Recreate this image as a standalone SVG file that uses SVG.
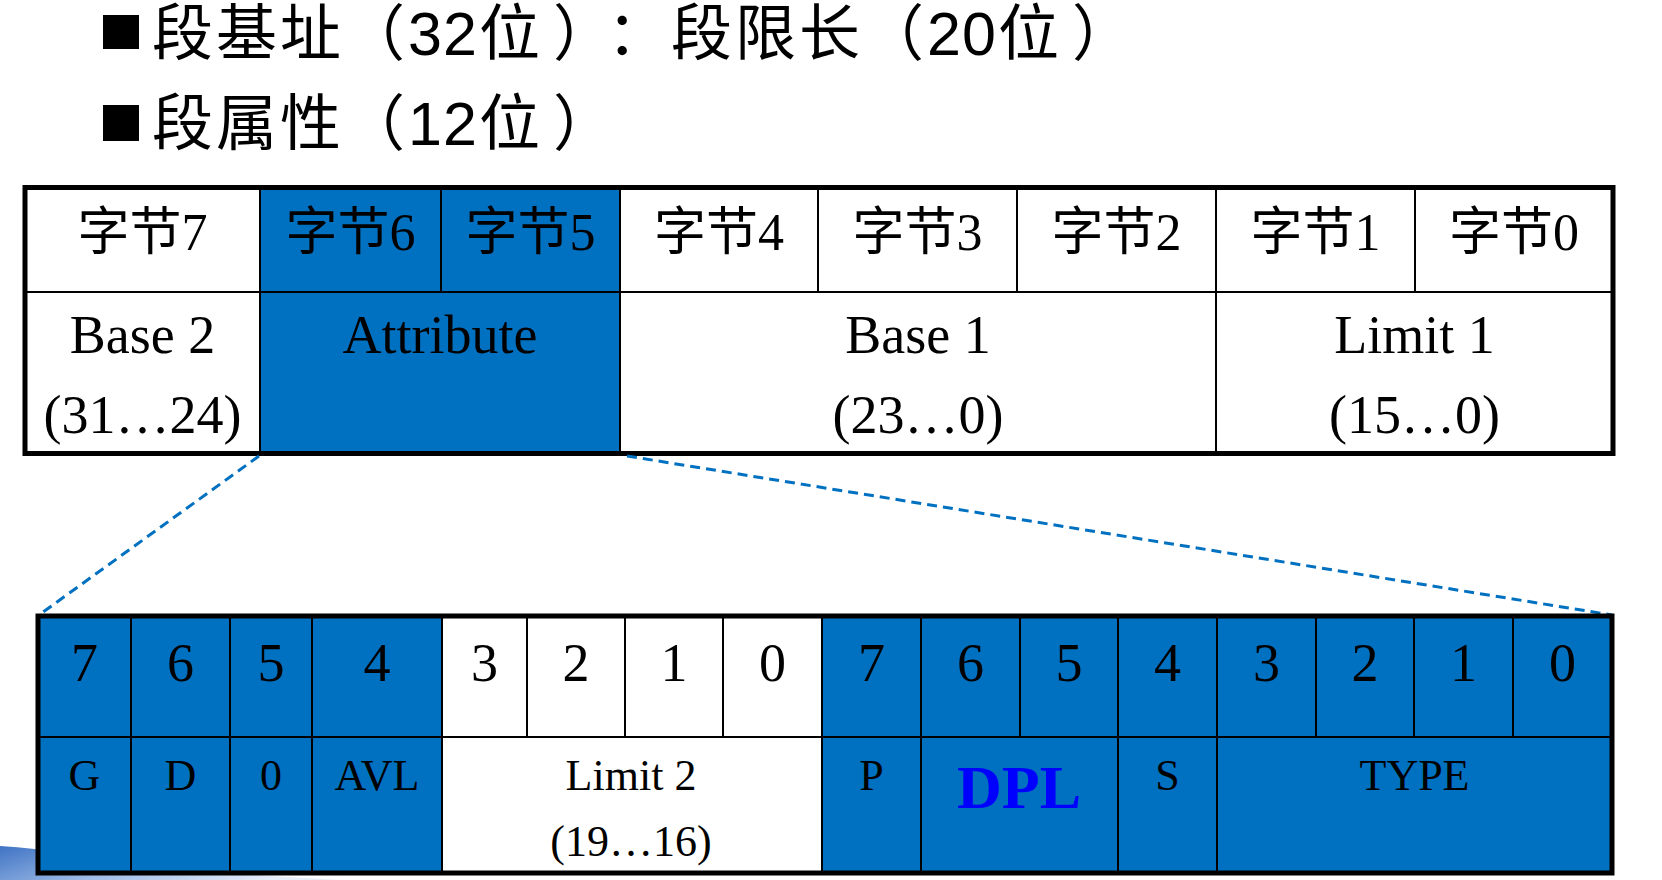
<svg xmlns="http://www.w3.org/2000/svg" width="1662" height="880" viewBox="0 0 1662 880">
<style>
.w{fill:#ffffff}
.b{fill:#0070C0}
.in{stroke:#000;stroke-width:2;fill:none}
.out{stroke:#000;stroke-width:5;fill:none}
.t{font-family:"Liberation Serif","Noto Sans CJK SC",serif;text-anchor:middle;fill:#000}
.hd{font-size:52px}
.lb{font-size:54px}
.bit{font-size:54px}
.fl{font-size:44px}
.dpl{font-size:62px;font-weight:bold;fill:#0000FF}
.title{font-family:"Liberation Sans","Noto Sans CJK SC",sans-serif;font-size:61px;fill:#000;text-spacing-trim:space-all}
.dash{stroke:#0070C0;stroke-width:3;stroke-dasharray:10 6;fill:none}
</style>
<defs>
<linearGradient id="sw" x1="0" y1="0" x2="1" y2="0.3">
<stop offset="0" stop-color="#3f73c4"/>
<stop offset="0.5" stop-color="#9dbbe6"/>
<stop offset="1" stop-color="#e6eefa"/>
</linearGradient>
</defs>
<rect width="1662" height="880" fill="#ffffff"/>
<path d="M0,846 Q70,850 130,868 L340,880 L0,880 Z" fill="url(#sw)"/>

<g id="title">
<rect x="103" y="15" width="36" height="34" fill="#000"/>
<text class="title" x="152 216 280 344 408 443 479 553 607 671 735 799 863 927 962 998 1072" y="55">段基址（32位）：段限长（20位）</text>
<rect x="103" y="105" width="36" height="36" fill="#000"/>
<text class="title" x="152 216 280 344 408 443 479 553" y="145">段属性（12位）</text>
</g>

<g id="descriptor">
<g id="byte7"><rect class="w" x="25" y="187.5" width="235" height="104.5"/><text class="t hd" x="142.5" y="250">字节7</text></g>
<g id="byte6"><rect class="b" x="260" y="187.5" width="181" height="104.5"/><text class="t hd" x="350.5" y="250">字节6</text></g>
<g id="byte5"><rect class="b" x="441" y="187.5" width="179" height="104.5"/><text class="t hd" x="530.5" y="250">字节5</text></g>
<g id="byte4"><rect class="w" x="620" y="187.5" width="198" height="104.5"/><text class="t hd" x="719" y="250">字节4</text></g>
<g id="byte3"><rect class="w" x="818" y="187.5" width="199" height="104.5"/><text class="t hd" x="917.5" y="250">字节3</text></g>
<g id="byte2"><rect class="w" x="1017" y="187.5" width="199" height="104.5"/><text class="t hd" x="1116.5" y="250">字节2</text></g>
<g id="byte1"><rect class="w" x="1216" y="187.5" width="199" height="104.5"/><text class="t hd" x="1315.5" y="250">字节1</text></g>
<g id="byte0"><rect class="w" x="1415" y="187.5" width="198" height="104.5"/><text class="t hd" x="1514" y="250">字节0</text></g>
<g id="base2"><rect class="w" x="25" y="292" width="235" height="161.5"/><text class="t lb" x="142.5" y="353">Base 2</text><text class="t lb" x="142.5" y="433">(31…24)</text></g>
<g id="attribute"><rect class="b" x="260" y="292" width="360" height="161.5"/><text class="t lb" x="440" y="353">Attribute</text></g>
<g id="base1"><rect class="w" x="620" y="292" width="596" height="161.5"/><text class="t lb" x="918" y="353">Base 1</text><text class="t lb" x="918" y="433">(23…0)</text></g>
<g id="limit1"><rect class="w" x="1216" y="292" width="397" height="161.5"/><text class="t lb" x="1414.5" y="353">Limit 1</text><text class="t lb" x="1414.5" y="433">(15…0)</text></g>
<path class="in" d="M25,292H1613 M260,187.5V453.5 M441,187.5V292 M620,187.5V453.5 M818,187.5V292 M1017,187.5V292 M1216,187.5V453.5 M1415,187.5V292"/>
<rect class="out" x="25" y="187.5" width="1588" height="266"/>
</g>

<g id="connectors">
<line class="dash" x1="259" y1="456" x2="39" y2="615"/>
<line class="dash" x1="627" y1="456" x2="1612" y2="615"/>
</g>

<g id="attribute-bits">
<g id="bits-row">
<rect class="b" x="38" y="616" width="404" height="121"/>
<rect class="w" x="442" y="616" width="380" height="121"/>
<rect class="b" x="822" y="616" width="790" height="121"/>
<text class="t bit" x="84.5" y="681">7</text>
<text class="t bit" x="180.5" y="681">6</text>
<text class="t bit" x="271" y="681">5</text>
<text class="t bit" x="377" y="681">4</text>
<text class="t bit" x="484.5" y="681">3</text>
<text class="t bit" x="576" y="681">2</text>
<text class="t bit" x="674" y="681">1</text>
<text class="t bit" x="772.5" y="681">0</text>
<text class="t bit" x="871.5" y="681">7</text>
<text class="t bit" x="970.5" y="681">6</text>
<text class="t bit" x="1069" y="681">5</text>
<text class="t bit" x="1167.5" y="681">4</text>
<text class="t bit" x="1266.5" y="681">3</text>
<text class="t bit" x="1365" y="681">2</text>
<text class="t bit" x="1463.5" y="681">1</text>
<text class="t bit" x="1562.5" y="681">0</text>
</g>
<g id="field-G"><rect class="b" x="38" y="737" width="93" height="136"/><text class="t fl" x="84.5" y="790">G</text></g>
<g id="field-D"><rect class="b" x="131" y="737" width="99" height="136"/><text class="t fl" x="180.5" y="790">D</text></g>
<g id="field-0"><rect class="b" x="230" y="737" width="82" height="136"/><text class="t fl" x="271" y="790">0</text></g>
<g id="field-AVL"><rect class="b" x="312" y="737" width="130" height="136"/><text class="t fl" x="377" y="790">AVL</text></g>
<g id="field-limit2"><rect class="w" x="442" y="737" width="380" height="136"/><text class="t fl" x="631" y="790">Limit 2</text><text class="t fl" x="631" y="856">(19…16)</text></g>
<g id="field-P"><rect class="b" x="822" y="737" width="99" height="136"/><text class="t fl" x="871.5" y="790">P</text></g>
<g id="field-DPL"><rect class="b" x="921" y="737" width="197" height="136"/><text class="t dpl" x="1019" y="808">DPL</text></g>
<g id="field-S"><rect class="b" x="1118" y="737" width="99" height="136"/><text class="t fl" x="1167.5" y="790">S</text></g>
<g id="field-TYPE"><rect class="b" x="1217" y="737" width="395" height="136"/><text class="t fl" x="1414.5" y="790">TYPE</text></g>
<path class="in" d="M38,737H1612 M131,616V873 M230,616V873 M312,616V873 M442,616V873 M527,616V737 M625,616V737 M723,616V737 M822,616V873 M921,616V873 M1020,616V737 M1118,616V873 M1217,616V873 M1316,616V737 M1414,616V737 M1513,616V737"/>
<rect class="out" x="38" y="616" width="1574" height="257"/>
</g>
</svg>
